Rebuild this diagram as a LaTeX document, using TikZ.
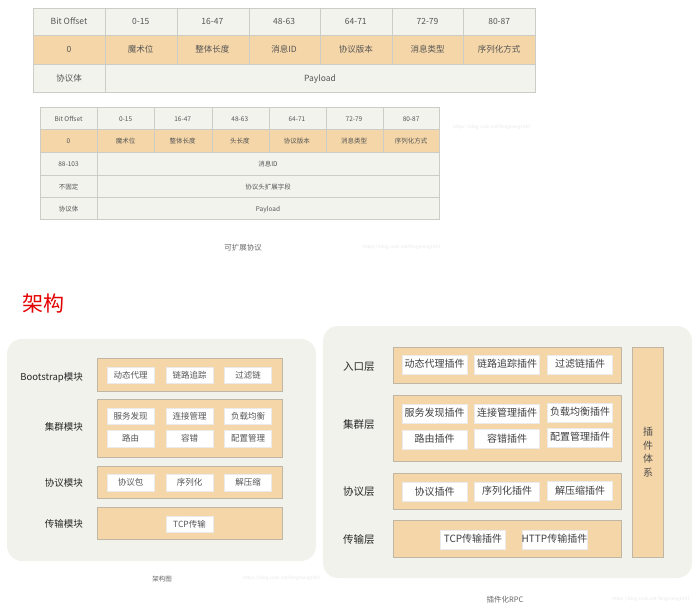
\documentclass[tikz,border=0pt]{standalone}
\usepackage{fontspec}
\setmainfont{Noto Sans CJK SC}
\usetikzlibrary{positioning}
\definecolor{cellgray}{HTML}{F3F3EE}
\definecolor{cellorange}{HTML}{F5D6A8}
\definecolor{gridgray}{HTML}{CDCDC8}
\definecolor{panelgray}{HTML}{F2F2EC}
\definecolor{layerline}{HTML}{BFB6A6}
\definecolor{celltext}{HTML}{555555}
\definecolor{marktext}{HTML}{E6E6E6}

\tikzset{
  gridline/.style={draw=gridgray, line width=0.9pt},
  evenbox/.style={text height=0.8em, text depth=0.12em},
  bigcell/.style={evenbox, font=\fontsize{8.5}{10}\selectfont, text=celltext, inner sep=0pt},
  smallcell/.style={evenbox, font=\fontsize{6.5}{8}\selectfont, text=celltext, inner sep=0pt},
  layer/.style={fill=cellorange, draw=layerline, line width=0.8pt},
  modlabel/.style={evenbox, font=\fontsize{9.5}{11}\selectfont, text=black!85, inner sep=0pt},
  item/.style={evenbox, fill=white, draw=white!92!black, line width=0.4pt, inner sep=0pt,
    font=\fontsize{8.5}{10}\selectfont, text=celltext},
  smallitem/.style={item, minimum width=47pt, minimum height=16.5pt},
  bigitem/.style={item, minimum width=65pt, minimum height=19pt, font=\fontsize{10}{12}\selectfont, text=black!75},
  caption/.style={evenbox, font=\fontsize{7.5}{9}\selectfont, text=black!60, inner sep=0pt},
  watermark/.style={font=\fontsize{4.5}{5}\selectfont, text=marktext, inner sep=0pt}
}

\begin{document}
\begin{tikzpicture}[x=1pt,y=-1pt]
\useasboundingbox (0,0) rectangle (698,610);

% first protocol table
\fill[cellgray] (33,8) rectangle (535,35);
\fill[cellorange] (33,35) rectangle (535,64);
\fill[cellgray] (33,64) rectangle (535,92);
\draw[gridline] (33,8) rectangle (535,92);
\draw[gridline] (33,35) -- (535,35) (33,64) -- (535,64);
\foreach \x in {105,177,249,320,392,463}
  \draw[gridline] (\x,8) -- (\x,64);
\draw[gridline] (105,64) -- (105,92);
\foreach \txt [count=\i] in {Bit Offset,0-15,16-47,48-63,64-71,72-79,80-87}
  \node[bigcell] (ta-h\i) at ({69+71.7*(\i-1)},21.5) {\txt};
\foreach \txt [count=\i] in {0,魔术位,整体长度,消息ID,协议版本,消息类型,序列化方式}
  \node[bigcell] (ta-o\i) at ({69+71.7*(\i-1)},49.5) {\txt};
\node[bigcell] (ta-body) at (69,78) {协议体};
\node[bigcell] (ta-pay) at (320,78) {Payload};

% extensible protocol table
\fill[cellgray] (40,107) rectangle (439,129);
\fill[cellorange] (40,129) rectangle (439,152);
\fill[cellgray] (40,152) rectangle (439,219);
\draw[gridline] (40,107) rectangle (439,219);
\foreach \y in {129,152,175,197}
  \draw[gridline] (40,\y) -- (439,\y);
\foreach \x in {97,154,212,269,326,383}
  \draw[gridline] (\x,107) -- (\x,152);
\draw[gridline] (97,152) -- (97,219);
\foreach \txt [count=\i] in {Bit Offset,0-15,16-47,48-63,64-71,72-79,80-87}
  \node[smallcell] (tb-h\i) at ({68.5+57.1*(\i-1)},118) {\txt};
\foreach \txt [count=\i] in {0,魔术位,整体长度,头长度,协议版本,消息类型,序列化方式}
  \node[smallcell] (tb-o\i) at ({68.5+57.1*(\i-1)},140.5) {\txt};
\node[smallcell] (tb-r3) at (68.5,163.5) {88-103};
\node[smallcell] (tb-id) at (268,163.5) {消息ID};
\node[smallcell] (tb-r4) at (68.5,186) {不固定};
\node[smallcell] (tb-ext) at (268,186) {协议头扩展字段};
\node[smallcell] (tb-r5) at (68.5,208) {协议体};
\node[smallcell] (tb-pay) at (268,208) {Payload};
\node[caption] (tb-cap) at (243,247) {可扩展协议};
\node[watermark] (tb-mark1) at (492,127) {https://blog.csdn.net/fengmeng1997};
\node[watermark] (tb-mark2) at (402,247) {https://blog.csdn.net/fengmeng1997};

% title
\node[font=\fontsize{21}{24}\selectfont, text=red!90!black, inner sep=0pt] (title) at (43,304) {架构};

% architecture panel
\fill[panelgray, rounded corners=15pt] (7,339) rectangle (316,561);
\draw[layer] (97,358) rectangle (282,391);
\draw[layer] (97,399) rectangle (282,457);
\draw[layer] (97,466) rectangle (282,498);
\draw[layer] (97,507) rectangle (282,539);
\node[modlabel, anchor=east] (m-boot) at (83,377) {Bootstrap模块};
\node[modlabel, anchor=east] (m-clu) at (83,427) {集群模块};
\node[modlabel, anchor=east] (m-pro) at (83,483) {协议模块};
\node[modlabel, anchor=east] (m-tra) at (83,524) {传输模块};
\node[smallitem] (a-proxy) at (130.5,375) {动态代理};
\node[smallitem] (a-trace) at (189.5,375) {链路追踪};
\node[smallitem] (a-filter) at (248,375) {过滤链};
\node[smallitem] (a-disc) at (130.5,416) {服务发现};
\node[smallitem] (a-conn) at (189.5,416) {连接管理};
\node[smallitem] (a-lb) at (248,416) {负载均衡};
\node[smallitem] (a-route) at (130.5,438.5) {路由};
\node[smallitem] (a-fault) at (189.5,438.5) {容错};
\node[smallitem] (a-conf) at (248,438.5) {配置管理};
\node[smallitem] (a-pack) at (130.5,482.5) {协议包};
\node[smallitem] (a-ser) at (189.5,482.5) {序列化};
\node[smallitem] (a-zip) at (248,482.5) {解压缩};
\node[smallitem] (a-tcp) at (189.5,524) {TCP传输};
\node[caption, font=\fontsize{6.5}{8}\selectfont] (a-cap) at (162,578) {架构图};
\node[watermark] (a-mark) at (282,578) {https://blog.csdn.net/fengmeng1997};

% plugin panel
\fill[panelgray, rounded corners=15pt] (323,326) rectangle (692,578);
\draw[layer] (393,347) rectangle (621,383);
\draw[layer] (393,395) rectangle (621,461);
\draw[layer] (393,473) rectangle (621,509);
\draw[layer] (393,520) rectangle (621,557);
\draw[layer] (632,347) rectangle (663,557);
\node[modlabel, anchor=west, font=\fontsize{10.5}{12}\selectfont] (p-in) at (343,367) {入口层};
\node[modlabel, anchor=west, font=\fontsize{10.5}{12}\selectfont] (p-clu) at (343,425) {集群层};
\node[modlabel, anchor=west, font=\fontsize{10.5}{12}\selectfont] (p-pro) at (343,492) {协议层};
\node[modlabel, anchor=west, font=\fontsize{10.5}{12}\selectfont] (p-tra) at (343,540) {传输层};
\node[bigitem] (b-proxy) at (434.5,364.5) {动态代理插件};
\node[bigitem] (b-trace) at (507,364.5) {链路追踪插件};
\node[bigitem] (b-filter) at (580,364.5) {过滤链插件};
\node[bigitem] (b-disc) at (434.5,413.5) {服务发现插件};
\node[bigitem] (b-conn) at (507,413.5) {连接管理插件};
\node[bigitem] (b-lb) at (580,412.5) {负载均衡插件};
\node[bigitem] (b-route) at (434.5,439.5) {路由插件};
\node[bigitem] (b-fault) at (507,439) {容错插件};
\node[bigitem] (b-conf) at (580,437.5) {配置管理插件};
\node[bigitem] (b-pack) at (434.5,492) {协议插件};
\node[bigitem] (b-ser) at (507,491.5) {序列化插件};
\node[bigitem] (b-zip) at (580,491) {解压缩插件};
\node[bigitem] (b-tcp) at (473,539.5) {TCP传输插件};
\node[bigitem] (b-http) at (554.5,539.5) {HTTP传输插件};
\node[modlabel, align=center, text=black!70, text height=, text depth=, font=\fontsize{10}{13.7}\selectfont] (b-sys) at (648,452) {插\\件\\体\\系};
\node[caption] (b-cap) at (505,599) {插件化RPC};
\node[watermark] (b-mark) at (651,599) {https://blog.csdn.net/fengmeng1997};
\end{tikzpicture}
\end{document}
